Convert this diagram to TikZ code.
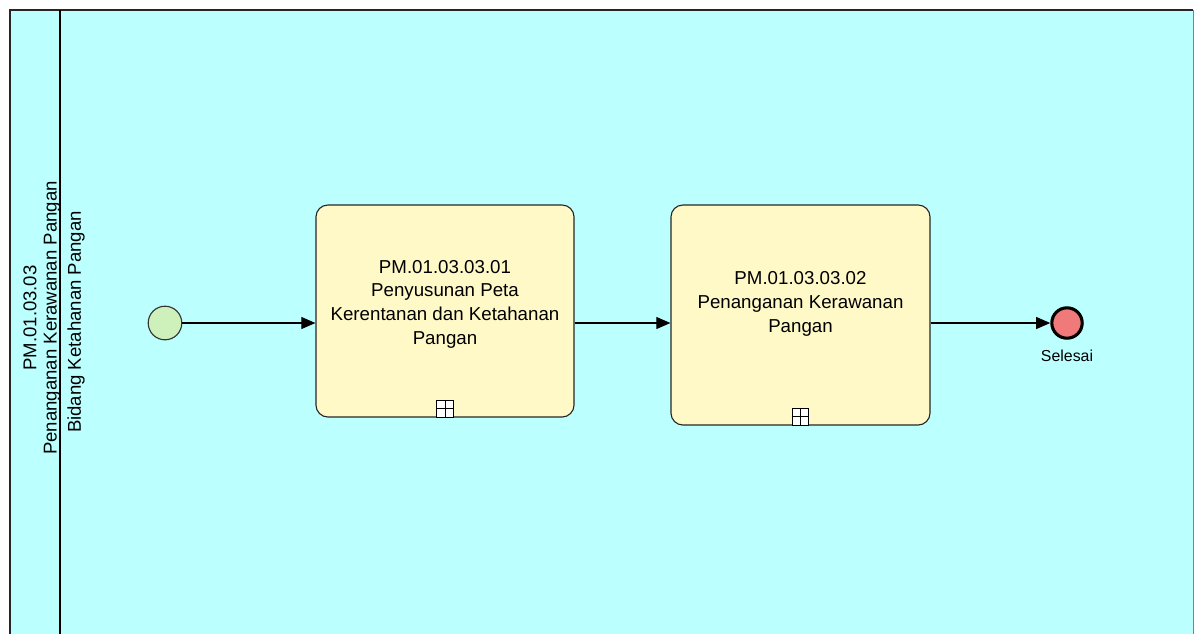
\documentclass[tikz,border=0pt]{standalone}
\usepackage{fontspec}
\setmainfont{Liberation Sans}
\usetikzlibrary{positioning, arrows.meta}
\definecolor{poolcyan}{RGB}{188,255,255}
\definecolor{taskyellow}{RGB}{255,249,200}
\definecolor{startgreen}{RGB}{206,240,186}
\definecolor{endred}{RGB}{240,122,122}
\tikzset{
  task/.style={draw=black!85, thick, fill=taskyellow, rounded corners=0.3cm},
  tasktext/.style={align=center, font=\fontsize{13.3}{16.8}\selectfont},
  subproc/.style={draw=black, fill=white, line width=0.6pt, minimum size=0.42cm, inner sep=0pt},
  startev/.style={circle, draw=black!80, thick, fill=startgreen, minimum size=0.84cm, inner sep=0pt},
  endev/.style={circle, draw=black, line width=2.2pt, fill=endred, minimum size=0.76cm, inner sep=0pt},
  sidelabel/.style={rotate=90, align=center, inner sep=0pt, font=\fontsize{13.2}{14.4}\selectfont},
  flow/.style={->, thick}
}
\begin{document}
\begin{tikzpicture}[x=0.025cm, y=-0.025cm, >={Triangle[length=10pt,width=8.5pt]}]
  \useasboundingbox (0,0) rectangle (1195,634);
  % pool and lane
  \fill[poolcyan] (10,10) rectangle (1193,634);
  \draw[line width=1.4pt, black!85] (10,634) -- (10,10) -- (1193,10);
  \draw[black!50] (1193,10) -- (1193,634);
  \draw[line width=1.4pt] (60,10) -- (60,634);
  \node[sidelabel] (pool) at (42,318) {PM.01.03.03\\Penanganan Kerawanan Pangan};
  \node[sidelabel] (lane) at (76,322) {Bidang Ketahanan Pangan};
  % events
  \node[startev] (start) at (165,323) {};
  \node[endev] (end) at (1067,323) {};
  \node[font=\fontsize{11.3}{13}\selectfont, below=0.12cm of end] (endlbl) {Selesai};
  % sub-processes
  \node[task, minimum width=6.45cm, minimum height=5.3cm] (task1) at (445,311) {};
  \node[tasktext] (t1text) at (445,304) {PM.01.03.03.01\\Penyusunan Peta\\Kerentanan dan Ketahanan\\Pangan};
  \node[task, minimum width=6.475cm, minimum height=5.5cm] (task2) at (800.5,315) {};
  \node[tasktext] (t2text) at (800.5,304) {PM.01.03.03.02\\Penanganan Kerawanan\\Pangan};
  % collapsed markers
  \node[subproc, anchor=south] (m1) at (task1.south) {};
  \draw[line width=0.6pt] (m1.north) -- (m1.south) (m1.west) -- (m1.east);
  \node[subproc, anchor=south] (m2) at (task2.south) {};
  \draw[line width=0.6pt] (m2.north) -- (m2.south) (m2.west) -- (m2.east);
  % sequence flows
  \draw[flow] (start) -- (start -| task1.west);
  \draw[flow] (task1.east |- start) -- (task2.west |- start);
  \draw[flow] (task2.east |- end) -- (end);
\end{tikzpicture}
\end{document}
